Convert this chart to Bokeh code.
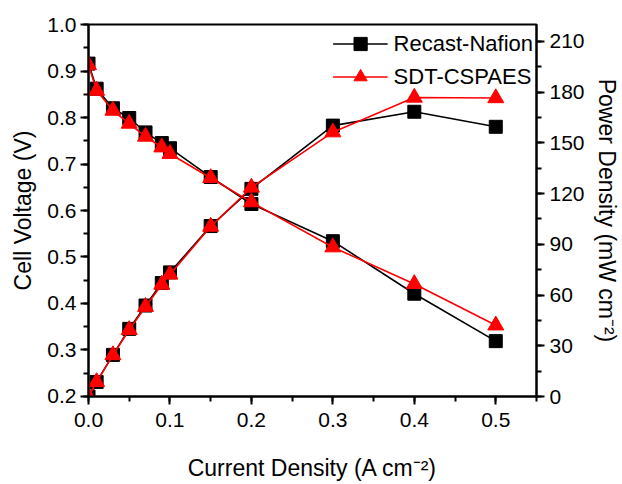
from bokeh.plotting import figure
from bokeh.models import (Range1d, LinearAxis, SingleIntervalTicker, PrintfTickFormatter,
                          Legend, LegendItem)
from bokeh.embed import file_html
from bokeh.resources import INLINE

# Data
current = [0.0, 0.01, 0.03, 0.05, 0.07, 0.09, 0.10, 0.15, 0.20, 0.30, 0.40, 0.50]
v_nafion = [0.916, 0.862, 0.820, 0.799, 0.768, 0.745, 0.734, 0.672, 0.614, 0.534, 0.421, 0.319]
v_sdt = [0.913, 0.858, 0.815, 0.787, 0.759, 0.736, 0.722, 0.670, 0.618, 0.521, 0.442, 0.353]
p_nafion = [0.0, 8.6, 24.6, 40.0, 53.8, 67.1, 73.4, 100.8, 122.8, 160.2, 168.4, 159.5]
p_sdt = [0.0, 8.6, 24.5, 39.4, 53.1, 66.2, 72.2, 100.5, 123.6, 156.3, 176.8, 176.5]
series_names = ["Recast-Nafion", "SDT-CSPAES"]

FONT = "Liberation Sans"

p = figure(width=622, height=484, output_backend="svg", toolbar_location=None,
           x_range=Range1d(0, 0.55), y_range=Range1d(0.1999, 1.0001),
           min_border_left=88, min_border_right=85, min_border_top=24, min_border_bottom=88)
p.extra_y_ranges = {"power": Range1d(0, 220)}
p.xgrid.visible = False
p.ygrid.visible = False
p.outline_line_color = "black"
p.outline_line_width = 2
p.outline_line_alpha = 1.0
p.background_fill_color = "white"
p.border_fill_color = "white"


def style_axis(ax):
    ax.axis_line_width = 2
    ax.axis_line_color = "black"
    ax.major_tick_line_width = 2
    ax.minor_tick_line_width = 2
    ax.major_tick_out = 8
    ax.major_tick_in = 0
    ax.minor_tick_out = 5
    ax.minor_tick_in = 0
    ax.major_label_text_font = FONT
    ax.major_label_text_font_size = "21px"
    ax.major_label_text_color = "black"
    ax.axis_label_text_font = FONT
    ax.axis_label_text_font_size = "23px"
    ax.axis_label_text_font_style = "normal"
    ax.axis_label_text_color = "black"


xa = p.xaxis[0]
xa.ticker = SingleIntervalTicker(interval=0.1, num_minor_ticks=2)
xa.formatter = PrintfTickFormatter(format="%.1f")
xa.axis_label = "Current Density (A cm\u207b\u00b2)"
style_axis(xa)
xa.major_label_standoff = 8
xa.axis_label_standoff = 25

ya = p.yaxis[0]
ya.ticker = SingleIntervalTicker(interval=0.1, num_minor_ticks=2)
ya.formatter = PrintfTickFormatter(format="%.1f")
ya.axis_label = "Cell Voltage (V)"
style_axis(ya)
ya.major_label_standoff = 4
ya.axis_label_standoff = 8

ra = LinearAxis(y_range_name="power", axis_label="Power Density (mW cm\u207b\u00b2)",
                ticker=SingleIntervalTicker(interval=30, num_minor_ticks=2),
                formatter=PrintfTickFormatter(format="%d"))
style_axis(ra)
ra.major_label_standoff = 5
ra.axis_label_standoff = 6
p.add_layout(ra, "right")

colors = ["black", "#ff0000"]
markers = ["square", "triangle"]
sizes = [13, 16]
volts = [v_nafion, v_sdt]
powers = [p_nafion, p_sdt]

items = []
for i in range(2):
    lv = p.line(current, volts[i], line_color=colors[i], line_width=1.6)
    sv = p.scatter(current, volts[i], marker=markers[i], size=sizes[i],
                   fill_color=colors[i], line_color=colors[i])
    lp = p.line(current, powers[i], line_color=colors[i], line_width=1.6, y_range_name="power")
    sp = p.scatter(current, powers[i], marker=markers[i], size=sizes[i],
                   fill_color=colors[i], line_color=colors[i], y_range_name="power")
    items.append(LegendItem(label=series_names[i], renderers=[lv, sv]))

legend = Legend(items=items, location="top_right", margin=0, padding=3,
                glyph_width=55, glyph_height=33, label_height=20, spacing=-5,
                label_standoff=6, label_text_font=FONT, label_text_font_size="22px",
                label_text_color="black", background_fill_alpha=0, border_line_alpha=0)
p.add_layout(legend)

open("out.html", "w").write(file_html(p, INLINE))
